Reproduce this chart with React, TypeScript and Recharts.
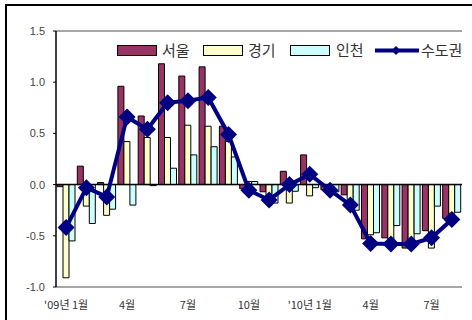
import React from 'react';
import {
  ComposedChart,
  Bar,
  Line,
  XAxis,
  YAxis,
  ReferenceLine,
  Legend,
} from 'recharts';

// Monthly change rates (%), Jan 2009 – Aug 2010
const months = [
  "'09년 1월", '2월', '3월', '4월', '5월', '6월', '7월', '8월', '9월', '10월', '11월', '12월',
  "'10년 1월", '2월', '3월', '4월', '5월', '6월', '7월', '8월',
];
const seoul = [
  -0.02, 0.18, 0.02, 0.96, 0.67, 1.18, 1.06, 1.15, 0.57, -0.04, -0.07, 0.13,
  0.29, -0.05, -0.1, -0.53, -0.52, -0.62, -0.45, -0.33,
];
const gyeonggi = [
  -0.91, -0.21, -0.3, 0.42, 0.46, 0.46, 0.58, 0.57, 0.42, 0.03, -0.12, -0.18,
  -0.11, -0.08, -0.2, -0.49, -0.57, -0.58, -0.62, -0.28,
];
const incheon = [
  -0.55, -0.38, -0.24, -0.2, -0.01, 0.16, 0.29, 0.37, 0.27, 0.03, -0.18, -0.065,
  -0.03, -0.07, -0.25, -0.47, -0.4, -0.48, -0.21, -0.27,
];
const capital = [
  -0.42, -0.03, -0.12, 0.66, 0.54, 0.8, 0.82, 0.85, 0.49, -0.055, -0.15, 0.0,
  0.1, -0.055, -0.2, -0.575, -0.58, -0.58, -0.52, -0.34,
];
const yTicks = [-1, -0.5, 0, 0.5, 1, 1.5];

const data = months.map((m, i) => ({
  month: m,
  seoul: seoul[i],
  gyeonggi: gyeonggi[i],
  incheon: incheon[i],
  capital: capital[i],
}));

const NAVY = '#000080';
const FONT = '"Liberation Sans", Arial, "Noto Sans CJK KR", sans-serif';
const KFONT = '"Noto Sans CJK KR", "Liberation Sans", sans-serif';

const Diamond = (props: any) => {
  const { cx, cy } = props;
  if (cx == null || cy == null) return null;
  const r = 8.5;
  return (
    <polygon
      points={`${cx},${cy - r} ${cx + r},${cy} ${cx},${cy + r} ${cx - r},${cy}`}
      fill={NAVY}
    />
  );
};

const swatch = (left: number, color: string): React.CSSProperties => ({
  position: 'absolute',
  left,
  top: 12,
  width: 40,
  height: 11,
  boxSizing: 'border-box',
  border: '1px solid #000',
  background: color,
});

const label = (left: number): React.CSSProperties => ({
  position: 'absolute',
  left,
  top: 8,
  fontSize: 15,
  lineHeight: '17px',
  color: '#333',
  fontFamily: KFONT,
  whiteSpace: 'nowrap',
});

const LegendBox = () => (
  <div style={{ position: 'relative', width: 360, height: 30, background: '#fff' }}>
    <div style={swatch(7, '#993366')} />
    <div style={label(52)}>서울</div>
    <div style={swatch(93, '#FFFFCC')} />
    <div style={label(138)}>경기</div>
    <div style={swatch(180, '#CCFFFF')} />
    <div style={label(226)}>인천</div>
    <svg style={{ position: 'absolute', left: 265, top: 10 }} width={44} height={15}>
      <line x1={0} y1={7.5} x2={44} y2={7.5} stroke={NAVY} strokeWidth={4} />
      <polygon points="21,3 25.5,7.5 21,12 16.5,7.5" fill={NAVY} />
    </svg>
    <div style={label(311)}>수도권</div>
  </div>
);

export default function App() {
  return (
    <div style={{ position: 'absolute', left: 0, top: 0, width: 472, height: 320, background: '#fff' }}>
      <div
        style={{
          position: 'absolute',
          left: 5,
          top: 4,
          width: 467,
          height: 316,
          boxSizing: 'border-box',
          borderTop: '2px solid #000',
          borderLeft: '2px solid #000',
        }}
      />
      <div style={{ position: 'absolute', left: 0, top: 0 }}>
        <ComposedChart
          width={472}
          height={320}
          data={data}
          margin={{ top: 31, right: 10, left: 6, bottom: 8 }}
          barCategoryGap={2}
          barGap={0}
        >
          <XAxis
            dataKey="month"
            interval={2}
            height={25}
            tickLine={false}
            tickMargin={8}
            axisLine={{ stroke: '#888', strokeWidth: 1.5 }}
            tick={{ fontSize: 11, fill: '#333', fontFamily: KFONT }}
          />
          <YAxis
            yAxisId="left"
            width={50}
            domain={[-1, 1.5]}
            ticks={yTicks}
            interval={0}
            tickSize={3}
            tickMargin={8}
            tickFormatter={(v: number) => v.toFixed(1)}
            axisLine={{ stroke: '#000', strokeWidth: 1.5 }}
            tickLine={{ stroke: '#000' }}
            tick={{ fontSize: 11, fill: '#444', fontFamily: FONT }}
          />
          <YAxis
            yAxisId="right"
            orientation="right"
            width={0}
            domain={[-1, 1.5]}
            tick={false}
            tickLine={false}
            axisLine={{ stroke: '#888', strokeWidth: 1.5 }}
          />
          <ReferenceLine yAxisId="left" y={1.5} stroke="#888" strokeWidth={1.5} />
          <Bar yAxisId="left" dataKey="seoul" barSize={6} fill="#993366" stroke="#000" strokeWidth={1} isAnimationActive={false} />
          <Bar yAxisId="left" dataKey="gyeonggi" barSize={6} fill="#FFFFCC" stroke="#000" strokeWidth={1} isAnimationActive={false} />
          <Bar yAxisId="left" dataKey="incheon" barSize={6} fill="#CCFFFF" stroke="#000" strokeWidth={1} isAnimationActive={false} />
          <ReferenceLine yAxisId="left" y={0} stroke="#000" strokeWidth={1.5} />
          <Line
            yAxisId="left"
            dataKey="capital"
            type="linear"
            stroke={NAVY}
            strokeWidth={4}
            dot={<Diamond />}
            activeDot={false}
            isAnimationActive={false}
          />
          <Legend
            layout="horizontal"
            verticalAlign="middle"
            align="center"
            content={() => <LegendBox />}
            wrapperStyle={{ position: 'absolute', left: 110, top: 33, width: 360, height: 30 }}
          />
        </ComposedChart>
      </div>
    </div>
  );
}
